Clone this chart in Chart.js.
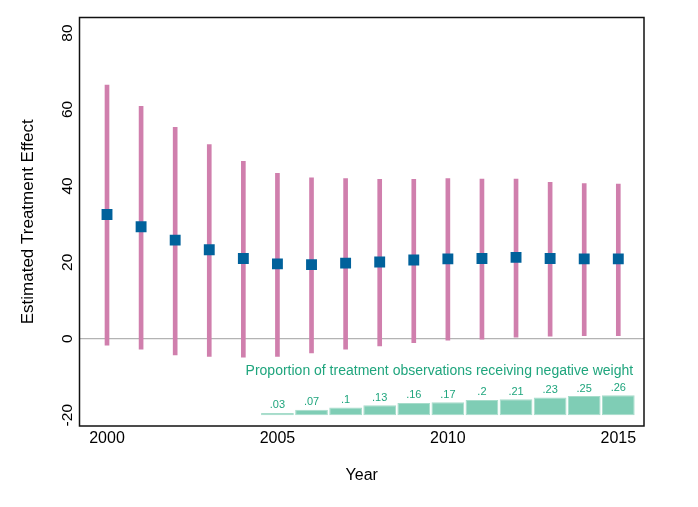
<!DOCTYPE html>
<html>
<head>
<meta charset="utf-8">
<script src="https://cdn.jsdelivr.net/npm/chart.js@4/dist/chart.umd.min.js"></script>
<style>
  html, body { margin: 0; padding: 0; background: #fff; }
  #wrap { width: 698px; height: 507px; }
</style>
</head>
<body>
<div id="wrap"><canvas id="chart"></canvas></div>
<script>
// values
const years = [2000, 2001, 2002, 2003, 2004, 2005, 2006, 2007, 2008, 2009, 2010, 2011, 2012, 2013, 2014, 2015];
const estimates = [32.5, 29.3, 25.8, 23.3, 21.0, 19.6, 19.4, 19.8, 20.1, 20.6, 20.9, 21.0, 21.3, 21.0, 20.9, 20.9];
const ciLower = [-1.7, -2.7, -4.2, -4.6, -4.8, -4.6, -3.7, -2.7, -1.9, -1.0, -0.4, -0.1, 0.4, 0.7, 0.8, 0.8];
const ciUpper = [66.4, 60.8, 55.3, 50.8, 46.4, 43.3, 42.1, 41.9, 41.7, 41.7, 41.9, 41.8, 41.8, 40.9, 40.6, 40.5];

const propYears = [2005, 2006, 2007, 2008, 2009, 2010, 2011, 2012, 2013, 2014, 2015];
const propValues = [0.03, 0.07, 0.10, 0.13, 0.16, 0.17, 0.20, 0.21, 0.23, 0.25, 0.26];

const xTickLabels = [2000, 2005, 2010, 2015];
const yTickLabels = [-20, 0, 20, 40, 60, 80];

// the proportion bars sit on the -20 line, 0.1 of share = 2 units
const propBase = -20;
const propScale = 20;

const PINK = '#d07fad';
const BLUE = '#00619b';
const GREEN_BAR = '#7fcdb5';
const GREEN_TEXT = '#1fa57d';

const ciData = years.map((yr, i) => ({ x: yr, y: [ciLower[i], ciUpper[i]] }));
const pointData = years.map((yr, i) => ({ x: yr, y: estimates[i] }));
const propData = propYears.map((yr, i) => ({ x: yr, y: [propBase, propBase + propValues[i] * propScale] }));

const fmtProp = (v) => String(Number(v.toFixed(2))).replace(/^0/, '');

// frame, rotated y tick labels, bar labels and the note text
const extrasPlugin = {
    id: 'extras',
    afterDatasetsDraw(chart) {
        const ctx = chart.ctx;
        const xs = chart.scales.x;
        const ys = chart.scales.y;

        // labels over proportion bars
        const meta = chart.getDatasetMeta(2);
        ctx.save();
        ctx.fillStyle = GREEN_TEXT;
        ctx.font = '11px "Liberation Sans", Arial, sans-serif';
        ctx.textAlign = 'center';
        ctx.textBaseline = 'bottom';
        meta.data.forEach((bar, i) => {
            const top = Math.min(bar.y, bar.base);
            ctx.fillText(fmtProp(propValues[i]), bar.x, top - 2);
        });

        ctx.font = '14px "Liberation Sans", Arial, sans-serif';
        ctx.textBaseline = 'middle';
        ctx.fillText('Proportion of treatment observations receiving negative weight',
            xs.getPixelForValue(2009.75), ys.getPixelForValue(-8.4));
        ctx.restore();
    },
    afterDraw(chart) {
        const ctx = chart.ctx;
        const area = chart.chartArea;
        const ys = chart.scales.y;

        ctx.save();
        ctx.fillStyle = '#000';
        ctx.font = '15.5px "Liberation Sans", Arial, sans-serif';
        ctx.textAlign = 'center';
        ctx.textBaseline = 'middle';
        yTickLabels.forEach((v) => {
            ctx.save();
            ctx.translate(area.left - 12, ys.getPixelForValue(v));
            ctx.rotate(-Math.PI / 2);
            ctx.fillText(String(v), 0, 0);
            ctx.restore();
        });

        ctx.strokeStyle = '#111';
        ctx.lineWidth = 1.5;
        ctx.strokeRect(area.left, area.top, area.right - area.left, area.bottom - area.top);
        ctx.restore();
    }
};

new Chart(document.getElementById('chart'), {
    type: 'bar',
    data: {
        datasets: [
            {
                type: 'scatter',
                label: 'Estimate',
                data: pointData,
                pointStyle: 'rect',
                pointRadius: 7.7,
                pointHoverRadius: 7.7,
                backgroundColor: BLUE,
                borderColor: BLUE,
                borderWidth: 0,
                order: 0,
            },
            {
                type: 'bar',
                label: 'CI',
                data: ciData,
                backgroundColor: PINK,
                barThickness: 4,
                grouped: false,
                order: 1,
            },
            {
                type: 'bar',
                label: 'Share negative weight',
                data: propData,
                backgroundColor: GREEN_BAR,
                borderColor: '#a6dcca',
                borderWidth: 1,
                borderSkipped: false,
                categoryPercentage: 1,
                barPercentage: 0.96,
                grouped: false,
                order: 2,
            },
        ],
    },
    options: {
        responsive: true,
        maintainAspectRatio: false,
        animation: false,
        events: [],
        layout: { padding: { top: 17.5, right: 54, left: 0, bottom: 0 } },
        plugins: {
            legend: { display: false },
            tooltip: { enabled: false },
        },
        scales: {
            x: {
                type: 'linear',
                offset: false,
                min: 1999.193,
                max: 2015.754,
                afterBuildTicks: (scale) => { scale.ticks = xTickLabels.map(v => ({ value: v })); },
                grid: { display: false, drawTicks: false },
                border: { display: false },
                ticks: {
                    padding: 3,
                    color: '#000',
                    font: { family: '"Liberation Sans", Arial, sans-serif', size: 16 },
                    maxRotation: 0,
                    callback: (v) => String(v),
                },
                title: {
                    display: true,
                    text: 'Year',
                    color: '#000',
                    font: { family: '"Liberation Sans", Arial, sans-serif', size: 16 },
                    padding: { top: 15.2, bottom: 21.4 },
                },
            },
            y: {
                type: 'linear',
                min: -22.83,
                max: 84.06,
                afterBuildTicks: (scale) => { scale.ticks = yTickLabels.map(v => ({ value: v })); },
                grid: {
                    drawTicks: false,
                    color: (c) => (c.tick && c.tick.value === 0 ? '#b3b3b3' : 'rgba(0,0,0,0)'),
                    lineWidth: 1.2,
                },
                border: { display: false },
                ticks: { display: false },
                title: {
                    display: true,
                    text: 'Estimated Treatment Effect',
                    color: '#000',
                    font: { family: '"Liberation Sans", Arial, sans-serif', size: 17 },
                    padding: { top: 18.3, bottom: 40.8 },
                },
            },
        },
    },
    plugins: [extrasPlugin],
});
</script>
</body>
</html>
